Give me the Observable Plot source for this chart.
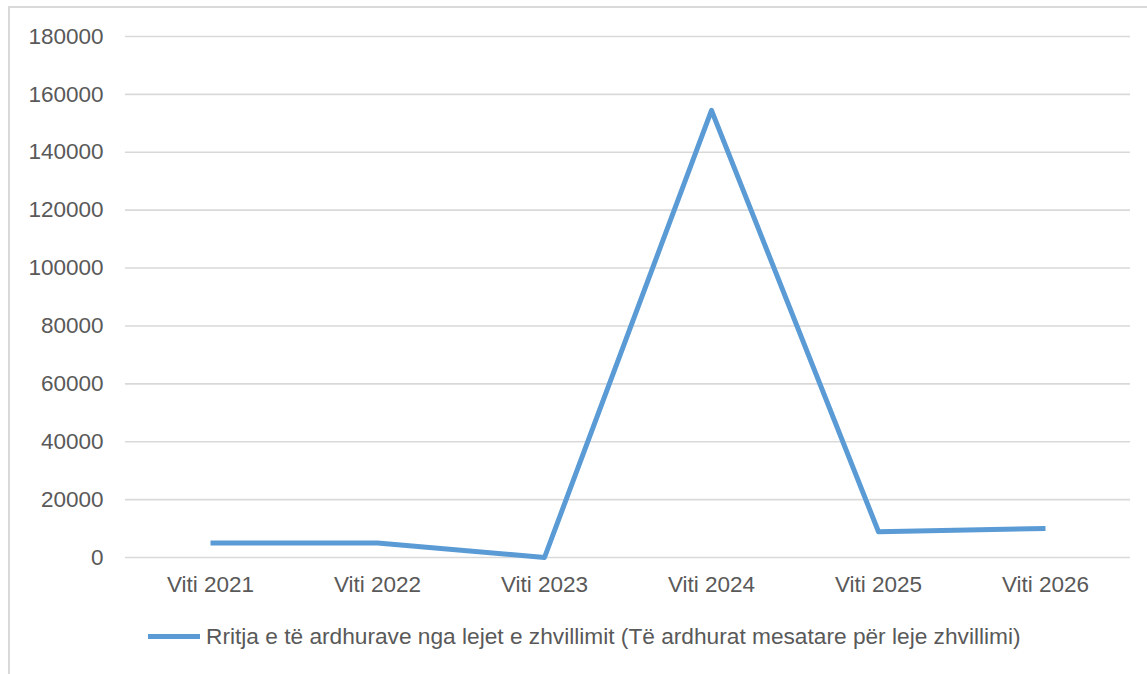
<!DOCTYPE html>
<html><head><meta charset="utf-8">
<script src="https://cdn.jsdelivr.net/npm/d3@7"></script>
<script src="https://cdn.jsdelivr.net/npm/@observablehq/plot@0.6"></script>
<style>
body{margin:0;background:#fff;font-family:"Liberation Sans",Arial,sans-serif;}
#frame{position:absolute;left:8px;top:6px;width:1160px;height:690px;border:2px solid #d9d9d9;box-sizing:border-box;}
#chart{position:absolute;left:0;top:0;}
#legend{position:absolute;left:148px;top:622px;height:28px;display:flex;align-items:center;color:#595959;font-size:22.7px;white-space:nowrap;}
#legend .sw{width:52px;height:5px;background:#5B9BD5;margin-right:6px;}
</style></head>
<body>
<div id="frame"></div>
<div id="chart"></div>
<div id="legend"><span class="sw"></span><span id="ltext"></span></div>
<script>
const years = ["Viti 2021","Viti 2022","Viti 2023","Viti 2024","Viti 2025","Viti 2026"];
const values = [5000, 5000, 0, 154500, 8900, 10000];
const yTicks = [0,20000,40000,60000,80000,100000,120000,140000,160000,180000];
const seriesName = "Rritja e të ardhurave nga lejet e zhvillimit (Të ardhurat mesatare për leje zhvillimi)";

const data = years.map((y,i)=>({year:y, value:values[i]}));
document.getElementById("ltext").textContent = seriesName;

const chart = Plot.plot({
  width: 1147,
  height: 610,
  marginLeft: 125,
  marginRight: 17,
  marginTop: 36,
  marginBottom: 53,
  style: {fontFamily: '"Liberation Sans", Arial, sans-serif', fontSize: "22.5px", color: "#595959", background: "transparent"},
  x: {type: "point", domain: years, padding: 0.5, label: null},
  y: {domain: [0,180000], label: null},
  marks: [
    Plot.ruleY(yTicks, {stroke: "#d9d9d9", strokeWidth: 1.6}),
    Plot.axisY(yTicks, {tickSize: 0, tickPadding: 22, tickFormat: d => String(d), fontSize: 22.5, fill: "#595959"}),
    Plot.axisX({tickSize: 0, tickPadding: 19, fontSize: 22.5, fill: "#595959"}),
    Plot.line(data, {x: "year", y: "value", stroke: "#5B9BD5", strokeWidth: 5, strokeLinejoin: "round", strokeLinecap: "butt"})
  ]
});
document.getElementById("chart").appendChild(chart);
</script>
</body></html>
